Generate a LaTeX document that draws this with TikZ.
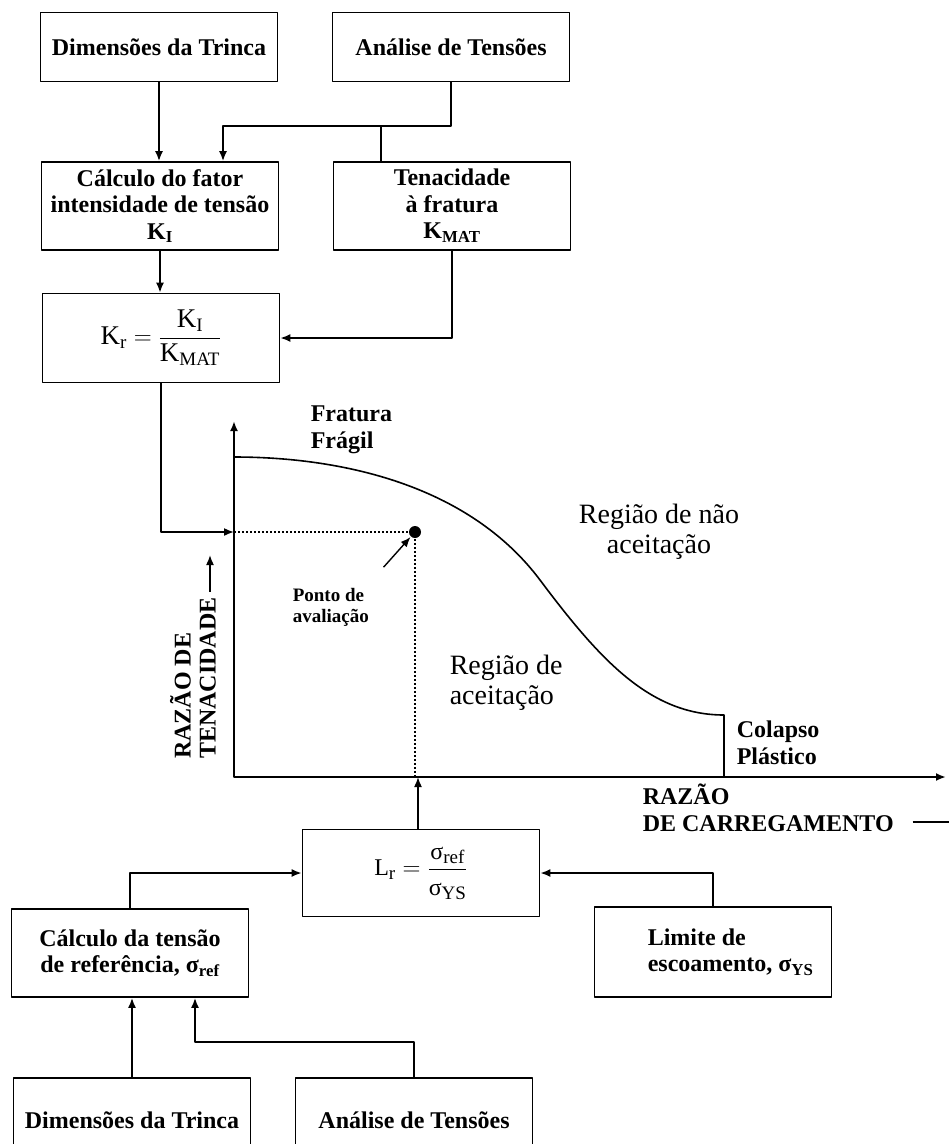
\documentclass[tikz,border=0pt]{standalone}
\usepackage{amsmath}
\usepackage{fontspec}
\setmainfont{Liberation Serif}
\usetikzlibrary{arrows.meta}
\newcommand\caixafonte{\fontsize{24}{26.5}\selectfont\bfseries}
\newcommand\regiaofonte{\fontsize{28}{30}\selectfont\mdseries}
\newcommand\indice[1]{\mbox{\fontsize{19}{19}\selectfont #1}}

\begin{document}
\begin{tikzpicture}[x=1pt, y=-1pt, >={Latex[length=10pt,width=8pt]}, line join=round, line width=1.6pt, font=\caixafonte]
	\tikzset{caixa/.style={draw, line width=1.8pt, minimum width=237pt, align=center, inner sep=2pt},
		texto/.style={align=left, inner sep=0pt},
		pontilhado/.style={line width=1.3pt, dash pattern=on 2pt off 2pt}}
	\useasboundingbox (0,0) rectangle (949,1144);
	\clip (0,0) rectangle (949,1144);
	\node [caixa, minimum height=69pt] (dimA) at (159,47) {Dimensões da Trinca};
	\node [caixa, minimum height=69pt] (anaA) at (451,47) {Análise de Tensões};
	\node [caixa, minimum height=88pt] (calcK) at (160,206) {Cálculo do fator\\intensidade de tensão\\K\textsubscript{I}};
	\node [caixa, minimum height=88pt] (tenac) at (452,206) {Tenacidade\\à fratura\\K\textsubscript{MAT}};
	\node [caixa, minimum height=89pt, font=\fontsize{27}{28}\selectfont\mdseries] (kr) at (161,338)
		{$\text{K}_{\indice{r}} = \dfrac{\text{K}_{\indice{I}}}{\text{K}_{\indice{MAT}}}$};
	\node [caixa, minimum height=87pt, font=\fontsize{24}{26}\selectfont\mdseries] (lr) at (421,873)
		{$\text{L}_{\indice{r}} = \dfrac{\text{σ}_{\indice{ref}}\rule[-5pt]{0pt}{5pt}}{\rule{0pt}{22pt}\text{σ}_{\indice{YS}}}$};
	\node [caixa, minimum height=88pt] (calcR) at (130,953) {Cálculo da tensão\\de referência, σ\textsubscript{ref}};
	\node [caixa, minimum height=90pt] (limite) at (713,952) {};
	\node [texto, anchor=west] (limiteT) at (647,952) {Limite de\\escoamento, σ\textsubscript{YS}};
	\node [caixa, minimum height=84pt] (dimB) at (132,1120) {Dimensões da Trinca};
	\node [caixa, minimum height=84pt] (anaB) at (414,1120) {Análise de Tensões};
	\coordinate (sA) at (381,126);
	\coordinate (sB) at (195,1042);
	\draw [->] (dimA) -- (dimA |- calcK.north);
	\draw [->] (anaA.south) |- (sA) -| ([xshift=63pt]calcK.north);
	\draw (sA) -- (sA |- tenac.north);
	\draw [->] (calcK.south) -- (calcK.south |- kr.north);
	\draw [->] (tenac.south) |- (kr.east);
	\draw [->] (calcR.north) |- (lr.west);
	\draw [->] (limite.north) |- (lr.east);
	\draw [->] (dimB.north) -- (dimB.north |- calcR.south);
	\draw [->] (anaB.north) |- (sB) -- (sB |- calcR.south);
	\coordinate (O) at (234,777);
	\coordinate (ytopo) at (234,421);
	\coordinate (xfim) at (946,777);
	\coordinate (kin) at (234,532);
	\draw [<->, line width=2pt] (ytopo) |- (xfim);
	\draw (234,457) .. controls (340,457) and (468,484) .. (540,580)
		.. controls (600,660) and (650,715) .. (724,715) -- (724,777);
	\node [circle, fill, inner sep=0pt, minimum size=12pt] (pt) at (415,532) {};
	\draw [pontilhado] (kin) -- (pt) -- (pt |- O);
	\draw [->] (kr.south) |- (kin);
	\draw [->] ([xshift=-3pt]lr.north) -- ([xshift=-3pt]lr.north |- O);
	\node [texto, anchor=west] (fratura) at (310,430) {Fratura\\Frágil};
	\node [texto, font=\regiaofonte, align=center] (naoacc) at (659,532) {Região de não\\aceitação};
	\node [texto, font=\regiaofonte, anchor=west] (acc) at (449,683) {Região de\\aceitação};
	\node [texto, anchor=west] (colapso) at (736,743) {Colapso\\Plástico};
	\node [texto, anchor=west, font=\fontsize{19}{21}\selectfont\bfseries] (ptlbl) at (292,607) {Ponto de\\avaliação};
	\draw [->, line width=1.4pt] ([shift={(14,-20)}]ptlbl.north east) -- (pt);
	\node [texto, anchor=west, font=\fontsize{24}{27}\selectfont\bfseries] (xlbl) at (642,808) {RAZÃO\\DE CARREGAMENTO};
	\coordinate (xseta) at (949,822);
	\draw ([xshift=18pt]xlbl.east |- xseta) -- (xseta);
	\node [texto, rotate=90, font=\fontsize{24}{25}\selectfont\bfseries] (ylbl) at (193,678) {RAZÃO DE\\TENACIDADE};
	\coordinate (yseta) at (210,555);
	\draw [->] ([yshift=5pt]yseta |- ylbl.south east) -- (yseta);
\end{tikzpicture}
\end{document}
